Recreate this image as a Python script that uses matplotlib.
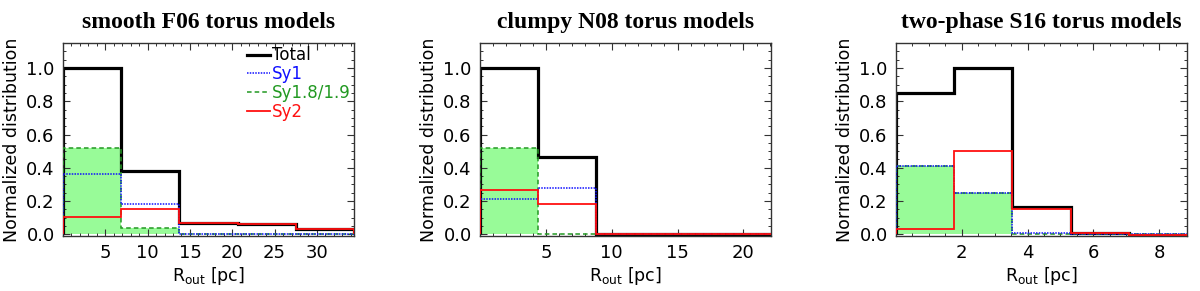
import matplotlib
matplotlib.use("Agg")
import matplotlib.pyplot as plt
from matplotlib.lines import Line2D
from matplotlib.ticker import MultipleLocator

titles = ["smooth F06 torus models", "clumpy N08 torus models", "two-phase S16 torus models"]

edges_f06 = [0.0, 6.88, 13.75, 20.63, 27.5, 34.38]
total_f06 = [1.0, 0.38, 0.07, 0.06, 0.03]
sy1_f06 = [0.36, 0.18, 0.0, 0.0, 0.0]
sy18_f06 = [0.52, 0.04, 0.0, 0.0, 0.0]
sy2_f06 = [0.105, 0.155, 0.07, 0.06, 0.03]

edges_n08 = [0.0, 4.42, 8.84, 13.26, 17.68, 22.1]
total_n08 = [1.0, 0.465, 0.005, 0.005, 0.005]
sy1_n08 = [0.21, 0.28, 0.0, 0.0, 0.0]
sy18_n08 = [0.52, 0.0, 0.0, 0.0, 0.0]
sy2_n08 = [0.265, 0.18, 0.005, 0.005, 0.005]

edges_s16 = [0.0, 1.77, 3.54, 5.31, 7.08, 8.85]
total_s16 = [0.85, 1.0, 0.165, 0.01, -0.005]
sy1_s16 = [0.41, 0.25, 0.01, 0.0, 0.0]
sy18_s16 = [0.41, 0.25, 0.0, 0.0, 0.0]
sy2_s16 = [0.035, 0.5, 0.155, 0.01, -0.005]

xmajor = [5, 5, 2]
xminor = [1, 1, 0.5]
yticks = [0.0, 0.2, 0.4, 0.6, 0.8, 1.0]

legend_labels = ["Total", "Sy1", "Sy1.8/1.9", "Sy2"]

data = [
    (edges_f06, total_f06, sy1_f06, sy18_f06, sy2_f06),
    (edges_n08, total_n08, sy1_n08, sy18_n08, sy2_n08),
    (edges_s16, total_s16, sy1_s16, sy18_s16, sy2_s16),
]

plt.rcParams['font.family'] = ['DejaVu Sans']

fig = plt.figure(figsize=(12, 2.91), dpi=100)
lefts = [0.0525, 0.40, 0.7467]
width = 0.2425
bottom = 0.189
height = 0.852 - 0.189

C_TOT = 'black'
C_SY1 = '#1010ff'
C_SY18 = '#229922'
C_SY2 = '#ff1010'
C_FILL = '#98fb98'

for i, (edges, tot, s1, s18, s2) in enumerate(data):
    ax = fig.add_axes([lefts[i], bottom, width, height])
    ax.stairs(s18, edges, fill=True, color=C_FILL, linewidth=0, zorder=1)
    ax.stairs(tot, edges, color=C_TOT, linewidth=2.3, zorder=2)
    ax.stairs(s18, edges, color=C_SY18, linewidth=1.1, linestyle=(0, (3, 2)), zorder=3)
    ax.stairs(s1, edges, color=C_SY1, linewidth=1.1, linestyle=(0, (1, 0.8)), zorder=4)
    ax.stairs(s2, edges, color=C_SY2, linewidth=1.3, zorder=5)
    ax.set_xlim(edges[0], edges[-1])
    ax.set_ylim(-0.01, 1.15)
    ax.set_yticks(yticks)
    ax.set_yticklabels([f"{v:.1f}" for v in yticks])
    ax.yaxis.set_minor_locator(MultipleLocator(0.05))
    ax.xaxis.set_major_locator(MultipleLocator(xmajor[i]))
    ax.xaxis.set_minor_locator(MultipleLocator(xminor[i]))
    xt = [t for t in ax.get_xticks() if edges[0] < t <= edges[-1]]
    ax.set_xticks(xt)
    ax.set_xticklabels([f"{t:g}" for t in xt])
    ax.tick_params(which='both', direction='in', top=True, right=True, labelsize=13, pad=6, color='#333333')
    ax.tick_params(which='major', length=5, width=0.8)
    ax.tick_params(which='minor', length=2.5, width=0.7)
    for sp in ax.spines.values():
        sp.set_linewidth(1.0)
        sp.set_color('#333333')
    ax.set_ylabel("Normalized distribution", fontsize=12.5, labelpad=4)
    ax.set_xlabel(r"R$_{\rm out}$ [pc]", fontsize=12.5, labelpad=2)
    ax.set_title(titles[i], fontsize=17, fontweight='bold', family='Liberation Serif', pad=11)
    if i == 0:
        handles = [
            Line2D([], [], color=C_TOT, lw=2.3),
            Line2D([], [], color=C_SY1, lw=1.1, linestyle=(0, (1, 0.8))),
            Line2D([], [], color=C_SY18, lw=1.1, linestyle=(0, (3, 2))),
            Line2D([], [], color=C_SY2, lw=1.3),
        ]
        leg = ax.legend(handles, legend_labels, loc='upper right', bbox_to_anchor=(1.0, 1.0),
                        frameon=False, fontsize=12, handlelength=1.4, handletextpad=0.1,
                        labelspacing=0.05, borderpad=0.2, borderaxespad=0.0,
                        labelcolor=[C_TOT, C_SY1, C_SY18, C_SY2])

fig.savefig("out.png", dpi=100)
